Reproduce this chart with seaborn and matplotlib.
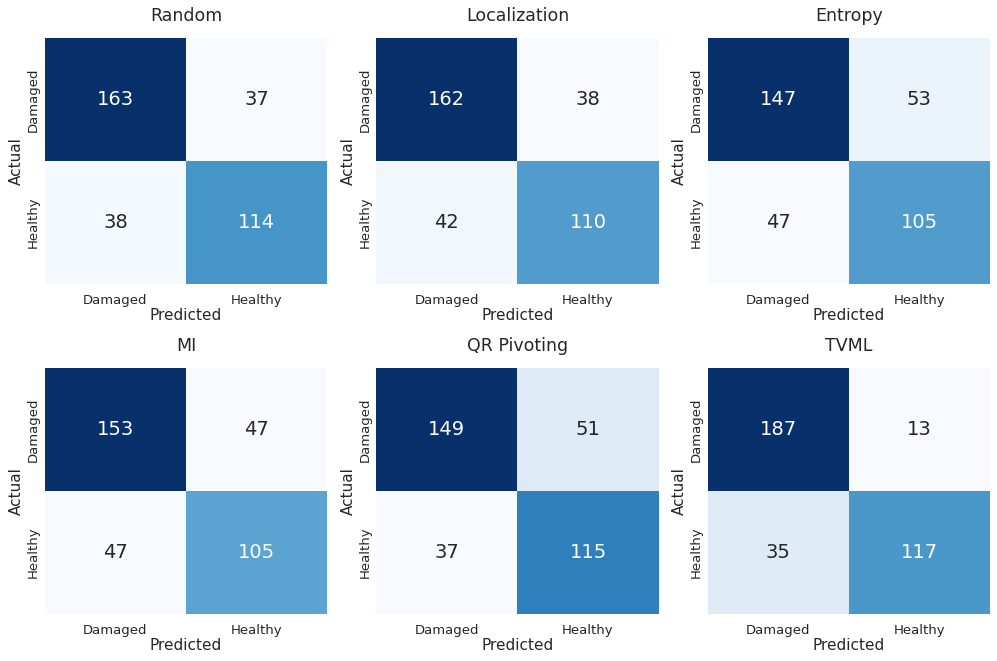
import numpy as np
import matplotlib
matplotlib.use("Agg")
import matplotlib.pyplot as plt
import seaborn as sns

# data: confusion matrices per method (rows = actual, cols = predicted)
methods = ["Random", "Localization", "Entropy", "MI", "QR Pivoting", "TVML"]
labels = ["Damaged", "Healthy"]
random_cm = [[163, 37], [38, 114]]
localization_cm = [[162, 38], [42, 110]]
entropy_cm = [[147, 53], [47, 105]]
mi_cm = [[153, 47], [47, 105]]
qr_cm = [[149, 51], [37, 115]]
tvml_cm = [[187, 13], [35, 117]]
matrices = [random_cm, localization_cm, entropy_cm, mi_cm, qr_cm, tvml_cm]

sns.set_theme(style="white")

fig, axes = plt.subplots(2, 3, figsize=(9.97, 6.61), dpi=100)
fig.subplots_adjust(left=0.045, right=0.993, top=0.9425, bottom=0.071,
                    wspace=0.173, hspace=0.341)

for ax, name, cm in zip(axes.flat, methods, matrices):
    sns.heatmap(np.array(cm), annot=True, fmt="d", cmap="Blues", cbar=False,
                xticklabels=labels, yticklabels=labels, ax=ax,
                annot_kws={"size": 14})
    ax.set_title(name, fontsize=12.5, pad=12)
    ax.set_xlabel("Predicted", fontsize=11, labelpad=1)
    ax.set_ylabel("Actual", fontsize=11, labelpad=2)
    ax.tick_params(axis="both", labelsize=9.5, length=0)
    ax.tick_params(axis="x", pad=7)
    ax.set_yticklabels(labels, rotation=90, va="center")

plt.savefig("out.png", dpi=100)
